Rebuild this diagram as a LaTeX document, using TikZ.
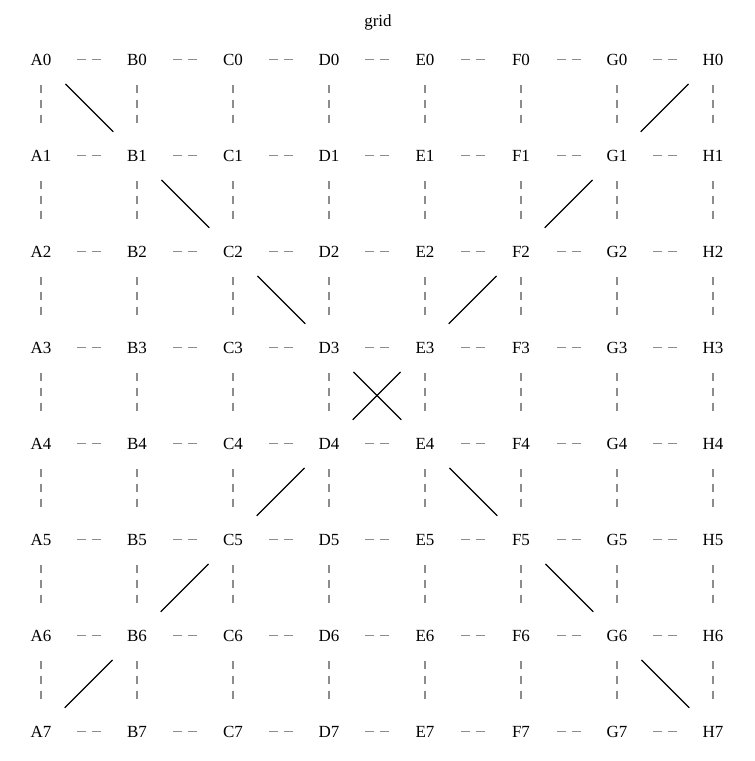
\documentclass[tikz,border=0pt]{standalone}
\usepackage{fontspec}
\setmainfont{Liberation Serif}
\begin{document}
\begin{tikzpicture}[x=1pt,y=-1pt,
  lbl/.style={inner sep=0pt,text height=11.3pt,text depth=0pt,font=\fontsize{17}{20}\selectfont},
  hd/.style={draw=gray!90,line width=1.4pt,dash pattern=on 9pt off 6pt,shorten <=36pt,shorten >=36pt},
  vd/.style={draw=gray!90,line width=1.1pt,dash pattern=on 8pt off 7pt,shorten <=25pt,shorten >=32pt},
  dg/.style={draw=black,line width=1.1pt,shorten <=34.5pt,shorten >=33.5pt}]
\useasboundingbox (0,0) rectangle (755,761);
\node[lbl] (title) at (378,21) {grid};
\foreach \c [count=\i from 0] in {A,B,C,D,E,F,G,H}{
  \foreach \r in {0,...,7}{
    \node[lbl] (\c\r) at (41+96*\i,59.5+96*\r) {\c\r};
  }
}
\foreach \c/\n in {A/B,B/C,C/D,D/E,E/F,F/G,G/H}{
  \foreach \r in {0,...,7}{
    \draw[hd] (\c\r.center) -- (\n\r.center);
  }
}
\foreach \c in {A,B,C,D,E,F,G,H}{
  \foreach \r/\s in {0/1,1/2,2/3,3/4,4/5,5/6,6/7}{
    \draw[vd] (\c\r.center) -- (\c\s.center);
  }
}
\foreach \a/\b in {A0/B1,B1/C2,C2/D3,D3/E4,E4/F5,F5/G6,G6/H7,H0/G1,G1/F2,F2/E3,E3/D4,D4/C5,C5/B6,B6/A7}{
  \draw[dg] (\a.center) -- (\b.center);
}
\end{tikzpicture}
\end{document}
